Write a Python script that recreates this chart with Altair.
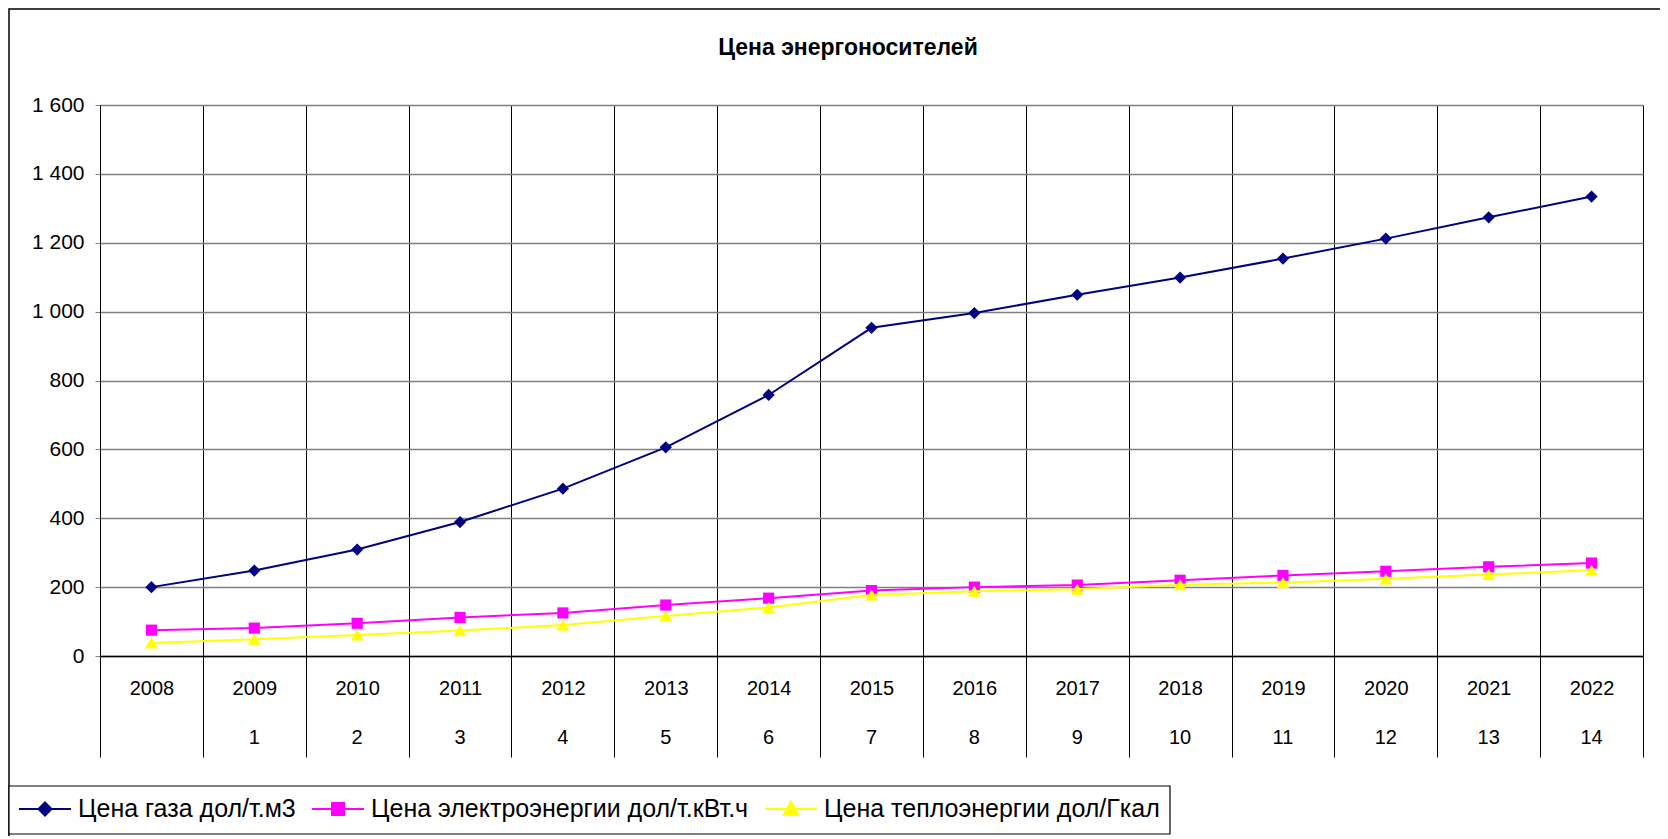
import altair as alt
import pandas as pd

years = ["2008", "2009", "2010", "2011", "2012", "2013", "2014", "2015",
         "2016", "2017", "2018", "2019", "2020", "2021", "2022"]
idx_labels = ["", "1", "2", "3", "4", "5", "6", "7", "8", "9", "10", "11", "12", "13", "14"]

gas = [200, 248, 309, 389, 486, 606, 758, 953, 996, 1049, 1099, 1154, 1212, 1274, 1334]
elec = [75, 81, 95, 112, 125, 148, 168, 190, 200, 206, 220, 234, 246, 259, 270]
heat = [38, 49, 61, 74, 90, 116, 141, 177, 188, 194, 207, 213, 224, 237, 249]

names = ["Цена газа дол/т.м3", "Цена электроэнергии дол/т.кВт.ч", "Цена теплоэнергии дол/Гкал"]
colors = ["#000080", "#FF00FF", "#FFFF00"]
shapes = ["diamond", "square", "triangle-up"]
legend_paths = [
    "M-1,0H1M0,-0.25L0.25,0L0,0.25L-0.25,0Z",
    "M-1,0H1M-0.23,-0.23H0.23V0.23H-0.23Z",
    "M-1,0H1M0,-0.28L0.28,0.22H-0.28Z",
]
series_vals = [gas, elec, heat]
title_text = "Цена энергоносителей"

FONT = "Liberation Sans"
W, H = 1543, 551

rows = []
for n, vals in zip(names, series_vals):
    for y, v in zip(years, vals):
        rows.append({"year": y, "series": n, "value": v})
df = pd.DataFrame(rows)
lab_df = pd.DataFrame({"year": years, "idx": idx_labels})
leg_df = pd.DataFrame({"series": names})

x_enc = alt.X(
    "year:O",
    sort=years,
    scale=alt.Scale(domain=years, paddingInner=0, paddingOuter=0),
    axis=alt.Axis(
        title=None, labelAngle=0, tickBand="extent", tickSize=101, tickColor="black",
        tickWidth=1, domainColor="black", domainWidth=1.5, grid=True, gridColor="black",
        gridWidth=1, labelPadding=-69, labelBaseline="middle", labelFont=FONT,
        labelFontSize=20, labelColor="black",
    ),
)
y_enc = alt.Y(
    "value:Q",
    scale=alt.Scale(domain=[0, 1600], nice=False),
    axis=alt.Axis(
        title=None, values=list(range(0, 1601, 200)),
        labelExpr="replace(format(datum.value, ','), ',', ' ')",
        tickSize=5, tickColor="#808080", domainColor="black", gridColor="#808080",
        gridWidth=1.5, labelFont=FONT, labelFontSize=21, labelColor="black",
        labelPadding=11,
    ),
)

layers = []
sizes = [150, 125, 165]
for n, c, s, sz in zip(names, colors, shapes, sizes):
    base = alt.Chart(df).transform_filter(alt.datum.series == n)
    layers.append(base.mark_line(color=c, strokeWidth=2).encode(x=x_enc, y=y_enc))
    layers.append(
        base.mark_point(shape=s, filled=True, color=c, size=sz, opacity=1).encode(x=x_enc, y=y_enc)
    )

idx_text = alt.Chart(lab_df).mark_text(
    font=FONT, fontSize=20, color="black", baseline="middle"
).encode(x=x_enc, y=alt.value(633), text="idx:N")

title_mark = alt.Chart(alt.Data(values=[{"t": title_text}])).mark_text(
    font=FONT, fontSize=23, fontWeight="bold", color="black", baseline="alphabetic", align="center"
).encode(x=alt.value(748), y=alt.value(-50), text="t:N")

leg = alt.Legend(
    orient="none", legendX=-82, legendY=677, direction="horizontal", title=None,
    padding=0, labelFont=FONT,
    labelFontSize=25, labelColor="black", symbolSize=2704, symbolStrokeWidth=2,
    labelOffset=6, columnPadding=12, symbolOpacity=1, labelLimit=2000,
)
legend_layer = alt.Chart(leg_df).transform_filter("false").mark_point(filled=True).encode(
    shape=alt.Shape("series:N", scale=alt.Scale(domain=names, range=legend_paths), legend=leg),
    fill=alt.Fill("series:N", scale=alt.Scale(domain=names, range=colors), legend=leg),
    stroke=alt.Stroke("series:N", scale=alt.Scale(domain=names, range=colors), legend=leg),
)

frame = alt.Chart(alt.Data(values=[{"a": 1}])).mark_rect(
    fillOpacity=0, stroke="black", strokeWidth=1.5
).encode(x=alt.value(-91), x2=alt.value(1650), y=alt.value(-96), y2=alt.value(900))

legend_box = alt.Chart(alt.Data(values=[{"a": 1}])).mark_rect(
    fill="white", stroke="black", strokeWidth=1.2
).encode(x=alt.value(-91), x2=alt.value(1070), y=alt.value(681), y2=alt.value(729))

chart = alt.layer(frame, *layers, idx_text, title_mark, legend_box, legend_layer).properties(
    width=W, height=H,
    autosize=alt.AutoSizeParams(type="none"),
    padding={"left": 92, "top": 97, "right": 17, "bottom": 180},
).configure_view(stroke=None).configure(background="white")

chart.save("out.html", embed_options={"renderer": "svg", "actions": False})
